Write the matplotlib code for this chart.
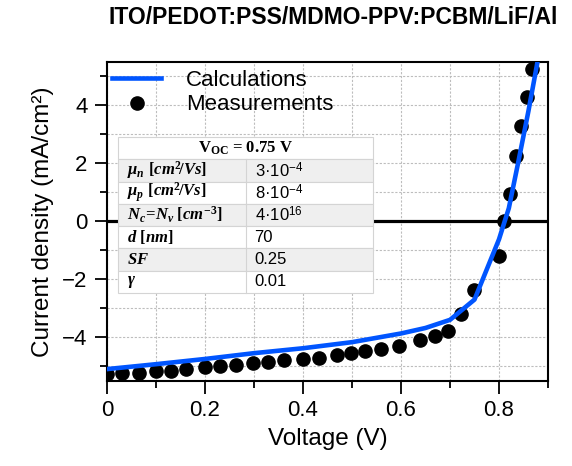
import matplotlib
matplotlib.use("Agg")
import matplotlib.pyplot as plt
from matplotlib.patches import Rectangle
from matplotlib.ticker import MultipleLocator

plt.rcParams["font.family"] = ["Liberation Sans", "DejaVu Sans"]
plt.rcParams["mathtext.fontset"] = "custom"
plt.rcParams["mathtext.rm"] = "Liberation Serif:bold"
plt.rcParams["mathtext.it"] = "Liberation Serif:italic:bold"
plt.rcParams["mathtext.bf"] = "Liberation Serif:bold"
plt.rcParams["mathtext.sf"] = "Liberation Sans"

# measured J-V points
meas_v = [0.000, 0.030, 0.066, 0.101, 0.130, 0.161, 0.201, 0.231, 0.264, 0.298,
          0.328, 0.362, 0.400, 0.432, 0.469, 0.498, 0.527, 0.559, 0.595, 0.639,
          0.670, 0.696, 0.722, 0.749, 0.799, 0.810, 0.822, 0.834, 0.845, 0.858,
          0.868]
meas_j = [-5.26, -5.22, -5.22, -5.17, -5.15, -5.10, -5.01, -4.98, -4.95, -4.90,
          -4.87, -4.78, -4.74, -4.70, -4.62, -4.55, -4.47, -4.41, -4.29, -4.09,
          -3.95, -3.80, -3.19, -2.38, -1.21, 0.00, 0.96, 2.25, 3.28, 4.30,
          5.26]

# simulated curve
calc_v = [0.0, 0.1, 0.2, 0.3, 0.4, 0.5, 0.6, 0.65, 0.7, 0.75, 0.8, 0.82, 0.84,
          0.86, 0.878]
calc_j = [-5.10, -4.93, -4.75, -4.55, -4.38, -4.17, -3.87, -3.68, -3.40, -2.70,
          -0.62, 0.45, 2.10, 3.80, 5.45]

x_ticks = [0, 0.2, 0.4, 0.6, 0.8]
x_tick_labels = ["0", "0.2", "0.4", "0.6", "0.8"]

table_title = r"$\mathrm{V_{OC}}$ = 0.75 V"
param_names = [r"$\mu_n\ [cm^2\!/Vs]$", r"$\mu_p\ [cm^2\!/Vs]$",
               r"$N_c\!=\!N_v\ [cm^{-3}]$", r"$d\ [nm]$", r"$SF$", r"$\gamma$"]
param_values = [r"3·10$^{\mathsf{-4}}$", r"8·10$^{\mathsf{-4}}$",
                r"4·10$^{\mathsf{16}}$", "70", "0.25", "0.01"]

fig = plt.figure(figsize=(5.72, 4.66), dpi=100)
ax = fig.add_axes([107 / 572, 1 - 380.7 / 466, 441 / 572, 318.7 / 466])

ax.set_xlim(0, 0.9)
ax.set_ylim(-5.5, 5.5)
ax.set_xticks(x_ticks)
ax.set_xticklabels(x_tick_labels)
ax.xaxis.set_minor_locator(MultipleLocator(0.1))
ax.yaxis.set_major_locator(MultipleLocator(2))
ax.yaxis.set_minor_locator(MultipleLocator(1))
ax.grid(which="both", color="#bdbdbd", linestyle=(0, (2, 1.5)), linewidth=0.8)
ax.set_axisbelow(True)
ax.tick_params(which="major", direction="out", length=9, width=1.3,
               labelsize=16, pad=5)
ax.tick_params(which="minor", direction="out", length=5, width=1.3)
for s in ax.spines.values():
    s.set_linewidth(1.5)

ax.axhline(0, color="black", linewidth=2.3, zorder=1.5)

ax.plot(meas_v, meas_j, "o", color="black", markersize=9.5,
        label="Measurements", zorder=3)
ax.plot(calc_v, calc_j, "-", color="#0055ff", linewidth=3.3,
        label="Calculations", zorder=4)

h, l = ax.get_legend_handles_labels()
ax.legend(h[::-1], l[::-1], loc="upper left", bbox_to_anchor=(0.012, 0.975),
          frameon=False, fontsize=16, borderaxespad=0, borderpad=0,
          handlelength=2.2, handletextpad=1.1, labelspacing=0.15)

# parameter table
x0, xm, x1 = 0.025, 0.3145, 0.603
y_top, row_h = 0.765, 0.07
rows = [table_title] + param_names
for i in range(len(rows)):
    yb = y_top - (i + 1) * row_h
    face = "#efefef" if i % 2 == 1 else "white"
    ax.add_patch(Rectangle((x0, yb), x1 - x0, row_h, transform=ax.transAxes,
                           facecolor=face, edgecolor="#d4d4d4", linewidth=0.8,
                           zorder=5))
    yc = yb + row_h / 2
    if i == 0:
        ax.text((x0 + x1) / 2, yc, table_title, transform=ax.transAxes,
                ha="center", va="center", fontsize=12, zorder=6,
                family="Liberation Serif", fontweight="bold")
    else:
        ax.plot([xm, xm], [yb, yb + row_h], transform=ax.transAxes,
                color="#d4d4d4", linewidth=0.8, zorder=5.5)
        ax.text(x0 + 0.02, yc, param_names[i - 1], transform=ax.transAxes,
                ha="left", va="center", fontsize=12, zorder=6)
        ax.text(xm + 0.02, yc, param_values[i - 1], transform=ax.transAxes,
                ha="left", va="center", fontsize=12, zorder=6)

ax.set_xlabel("Voltage (V)", fontsize=17.5, labelpad=5)
ax.set_ylabel("Current density (mA/cm²)", fontsize=17.5, labelpad=6)

fig.text(0.976, 0.962, "ITO/PEDOT:PSS/MDMO-PPV:PCBM/LiF/Al", ha="right",
         va="center", fontsize=16.5, fontweight="bold")

fig.savefig("out.png", dpi=100)
